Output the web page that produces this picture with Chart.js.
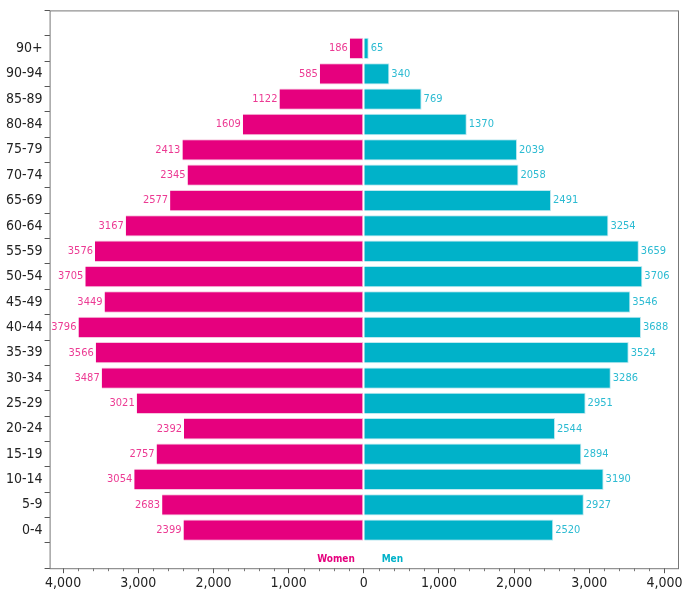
<!DOCTYPE html>
<html>
<head>
<meta charset="utf-8">
<script src="https://cdn.jsdelivr.net/npm/chart.js@4"></script>
<style>
  body { margin: 0; background: #fff; }
  #wrap { width: 688px; height: 596px; }
</style>
</head>
<body>
<div id="wrap"><canvas id="pyramid"></canvas></div>
<script>
const ageGroups = ['90+', '90-94', '85-89', '80-84', '75-79', '70-74', '65-69', '60-64', '55-59', '50-54',
    '45-49', '40-44', '35-39', '30-34', '25-29', '20-24', '15-19', '10-14', '5-9', '0-4'];
const women = [186, 585, 1122, 1609, 2413, 2345, 2577, 3167, 3576, 3705,
    3449, 3796, 3566, 3487, 3021, 2392, 2757, 3054, 2683, 2399];
const men = [65, 340, 769, 1370, 2039, 2058, 2491, 3254, 3659, 3706,
    3546, 3688, 3524, 3286, 2951, 2544, 2894, 3190, 2927, 2520];
const xTicks = [-4000, -3000, -2000, -1000, 0, 1000, 2000, 3000, 4000];

const PINK = '#E6007E';
const CYAN = '#00B2C9';
const FONT = '"DejaVu Sans Condensed", "DejaVu Sans", sans-serif';

// blank slot above and below for padding (bottom one holds Women / Men)
const labels = [''].concat(ageGroups, ['']);
const womenData = [null].concat(women.map(v => -v), [null]);
const menData = [null].concat(men, [null]);

const extras = {
    id: 'extras',
    afterDatasetsDraw(chart) {
        const ctx = chart.ctx;
        const x = chart.scales.x, y = chart.scales.y;
        const area = chart.chartArea;
        ctx.save();
        ctx.strokeStyle = '#777';
        ctx.lineWidth = 1;
        ctx.strokeRect(area.left + 0.5, area.top + 0.5, area.right - area.left, area.bottom - area.top);

        // minor ticks
        ctx.beginPath();
        for (let v = -4000; v <= 4000; v += 200) {
            if (v % 1000 === 0) continue;
            const px = Math.round(x.getPixelForValue(v)) + 0.5;
            ctx.moveTo(px, area.bottom);
            ctx.lineTo(px, area.bottom + 3);
        }
        ctx.stroke();

        ctx.font = '11px ' + FONT;
        ctx.textBaseline = 'middle';
        ageGroups.forEach((g, i) => {
            const py = y.getPixelForValue(i + 1);
            ctx.fillStyle = '#EC3A93';
            ctx.textAlign = 'right';
            ctx.fillText(String(women[i]), x.getPixelForValue(-women[i]) - 2, py);
            ctx.fillStyle = '#2CBBD2';
            ctx.textAlign = 'left';
            ctx.fillText(String(men[i]), x.getPixelForValue(men[i]) + 2, py);
        });

        const ly = y.getPixelForValue(labels.length - 1) + 4;
        ctx.font = 'bold 10px ' + FONT;
        ctx.textAlign = 'center';
        ctx.fillStyle = PINK;
        ctx.fillText('Women', x.getPixelForValue(-370), ly);
        ctx.fillStyle = CYAN;
        ctx.fillText('Men', x.getPixelForValue(380), ly);
        ctx.restore();
    }
};

new Chart(document.getElementById('pyramid'), {
    type: 'bar',
    data: {
        labels,
        datasets: [
            { label: 'Women', data: womenData, backgroundColor: PINK, borderColor: '#f6c6de', borderWidth: 1, borderSkipped: 'end' },
            { label: 'Men', data: menData, backgroundColor: CYAN, borderColor: '#bfe9f0', borderWidth: 1, borderSkipped: 'start' },
        ],
    },
    options: {
        indexAxis: 'y',
        responsive: true,
        maintainAspectRatio: false,
        animation: false,
        layout: { padding: { top: 8, right: 10, bottom: 2, left: 4 } },
        datasets: { bar: { barPercentage: 0.84, categoryPercentage: 1 } },
        plugins: { legend: { display: false }, tooltip: { enabled: false } },
        scales: {
            x: {
                min: -4180,
                max: 4180,
                afterBuildTicks: axis => { axis.ticks = xTicks.map(v => ({ value: v })); },
                grid: { drawOnChartArea: false, tickLength: 5, color: '#555' },
                border: { display: false },
                ticks: {
                    color: '#222',
                    font: { size: 14, family: FONT },
                    padding: 2,
                    callback: v => Math.abs(v).toLocaleString('en-US'),
                },
            },
            y: {
                stacked: true,
                grid: { drawOnChartArea: false, tickLength: 5, color: '#555' },
                border: { display: false },
                ticks: {
                    color: '#222',
                    font: { size: 14, family: FONT },
                    padding: 2,
                    autoSkip: false,
                },
            },
        },
    },
    plugins: [extras],
});
</script>
</body>
</html>
